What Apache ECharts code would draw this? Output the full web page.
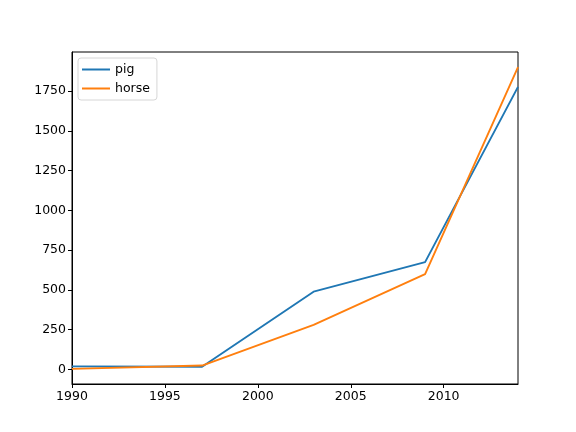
<!DOCTYPE html>
<html>
<head>
<meta charset="utf-8">
<script src="https://cdn.jsdelivr.net/npm/echarts@6/dist/echarts.min.js"></script>
<style>
  html, body { margin: 0; padding: 0; background: #fff; }
  #chart { width: 576px; height: 432px; }
</style>
</head>
<body>
<div id="chart"></div>
<script>
// data
var years = [1990, 1997, 2003, 2009, 2014];
var pig = [20, 18, 489, 675, 1776];
var horse = [4, 25, 281, 600, 1900];
var xTicks = [1990, 1995, 2000, 2005, 2010];
var yTicks = [0, 250, 500, 750, 1000, 1250, 1500, 1750];

function pairs(xs, ys) {
  return xs.map(function (x, i) { return [x, ys[i]]; });
}

var chart = echarts.init(document.getElementById('chart'), null, { renderer: 'canvas' });
var font = 'DejaVu Sans';
var legendIcon = 'path://M0,4L28,4L28,6L0,6Z';

var option = {
  animation: false,
  textStyle: { fontFamily: font },
  grid: {
    left: 72, right: 58, top: 52, bottom: 48,
    show: true, borderColor: '#000', borderWidth: 1, backgroundColor: 'transparent'
  },
  legend: {
    orient: 'vertical',
    left: 78, top: 58,
    padding: [5, 7, 5, 4],
    itemGap: 6,
    itemWidth: 28, itemHeight: 10,
    backgroundColor: '#fff',
    borderColor: '#d6d6d6', borderWidth: 1, borderRadius: 3,
    textStyle: { fontFamily: font, fontSize: 12.5, color: '#000' },
    data: [
      { name: 'pig', icon: legendIcon },
      { name: 'horse', icon: legendIcon }
    ]
  },
  xAxis: {
    type: 'value',
    min: 1990, max: 2014,
    axisLine: { show: true, onZero: false, lineStyle: { color: '#000' } },
    axisTick: { show: true, length: 4, customValues: xTicks, lineStyle: { color: '#000' } },
    axisLabel: {
      customValues: xTicks, color: '#000', fontSize: 12.5, margin: 6, fontFamily: font,
      formatter: function (v) { return String(v); }
    },
    splitLine: { show: false }
  },
  yAxis: {
    type: 'value',
    min: -90.8, max: 1994.8,
    axisLine: { show: true, onZero: false, lineStyle: { color: '#000' } },
    axisTick: { show: true, length: 4, customValues: yTicks, lineStyle: { color: '#000' } },
    axisLabel: {
      customValues: yTicks, color: '#000', fontSize: 12.5, margin: 6, fontFamily: font,
      formatter: function (v) { return String(v); }
    },
    splitLine: { show: false }
  },
  series: [
    {
      name: 'pig', type: 'line', data: pairs(years, pig),
      symbol: 'none', color: '#1f77b4', lineStyle: { width: 1.9 }
    },
    {
      name: 'horse', type: 'line', data: pairs(years, horse),
      symbol: 'none', color: '#ff7f0e', lineStyle: { width: 1.9 }
    }
  ]
};
chart.setOption(option);
</script>
</body>
</html>
